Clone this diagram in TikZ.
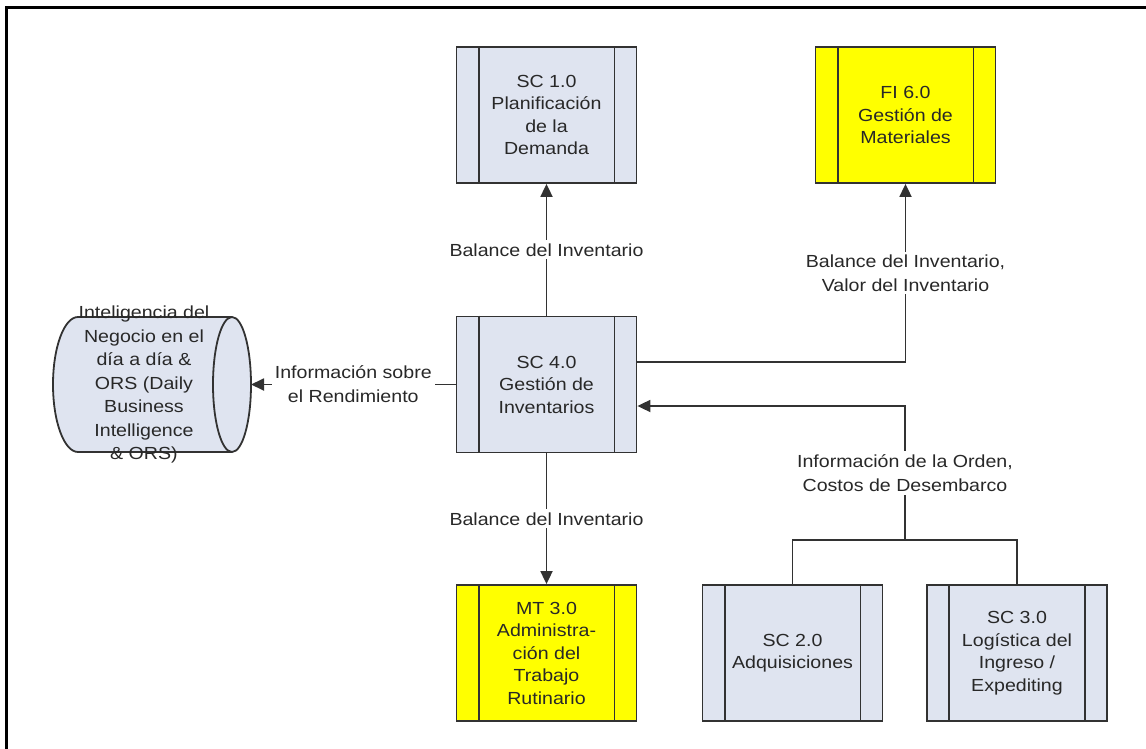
\documentclass[tikz,border=0pt]{standalone}
\usepackage{fontspec}
\setmainfont{Liberation Sans}[FakeStretch=1.12]
\usetikzlibrary{arrows.meta}
\definecolor{boxblue}{RGB}{223,228,240}
\definecolor{boxyellow}{RGB}{255,255,0}
\definecolor{linec}{RGB}{50,50,50}
\definecolor{textc}{RGB}{40,40,40}
\begin{document}
\begin{tikzpicture}[x=1pt,y=-1pt,
  proc/.style={rectangle, draw=linec, line width=1.8pt, fill=boxblue,
    minimum width=180pt, minimum height=136pt, inner sep=0pt, align=center,
    text=textc, font=\fontsize{17.5}{22.5}\selectfont},
  procy/.style={proc, fill=boxyellow},
  divider/.style={draw=linec, line width=1.8pt},
  conn/.style={draw=linec, line width=1.8pt},
  arr/.style={conn, -{Triangle[length=13pt,width=12pt]}},
  lbl/.style={fill=white, inner sep=3pt, align=center, text=textc,
    font=\fontsize{17.5}{24}\selectfont},
  cyl/.style={draw=linec, line width=1.8pt, fill=boxblue}]
\useasboundingbox (0,0) rectangle (1146,749);
\draw[line width=3pt, black] (6.5,749) -- (6.5,7.5) -- (1146,7.5);

% process boxes
\node[proc]  (sc1) at (546.5,115)   {SC 1.0\\Planificación\\de la\\Demanda};
\node[procy] (fi6) at (905.5,115)   {FI 6.0\\Gestión de\\Materiales};
\node[proc]  (sc4) at (546.5,384.5) {SC 4.0\\Gestión de\\Inventarios};
\node[procy] (mt3) at (546.5,653)   {MT 3.0\\Administra-\\ción del\\Trabajo\\Rutinario};
\node[proc]  (sc2) at (792.5,653)   {SC 2.0\\Adquisiciones};
\node[proc]  (sc3) at (1017,653)    {SC 3.0\\Logística del\\Ingreso /\\Expediting};
\foreach \n in {sc1,fi6,sc4,mt3,sc2,sc3}{
  \draw[divider] ([xshift=23pt]\n.north west) -- ([xshift=23pt]\n.south west);
  \draw[divider] ([xshift=-23pt]\n.north east) -- ([xshift=-23pt]\n.south east);
}

% data store (horizontal cylinder)
\path[cyl] (232,317) -- (78,317)
  arc[start angle=90, end angle=270, x radius=25pt, y radius=67.5pt]
  -- (232,452)
  arc[start angle=-90, end angle=90, x radius=19pt, y radius=67.5pt] -- cycle;
\draw[divider] (232,317) arc[start angle=90, end angle=270, x radius=19pt, y radius=67.5pt];
\node[align=center, text=textc, font=\fontsize{17.5}{23.5}\selectfont] (bi) at (144,384.5)
  {Inteligencia del\\Negocio en el\\día a día \&\\ORS (Daily\\Business\\Intelligence\\\& ORS)};
\coordinate (biR) at (251,384.5);

% connectors
\draw[arr] (sc4.north) -- (sc1.south) node[lbl, midway] {Balance del Inventario};
\draw[arr] (sc4.south) -- (mt3.north) node[lbl, midway] {Balance del Inventario};
\draw[arr] (sc4.west) -- (biR) node[lbl, midway] {Información sobre\\el Rendimiento};
\draw[arr] ([yshift=22.5pt]sc4.east) -| (fi6.south)
  node[lbl, pos=0.75] {Balance del Inventario,\\Valor del Inventario};
\coordinate (jn) at (905,540);
\draw[conn] (sc2.north) -- (sc2.north |- jn) -- (sc3.north |- jn) -- (sc3.north);
\draw[arr] (jn) |- ([yshift=-21.5pt]sc4.east)
  node[lbl, pos=0.25] {Información de la Orden,\\Costos de Desembarco};
\end{tikzpicture}
\end{document}
